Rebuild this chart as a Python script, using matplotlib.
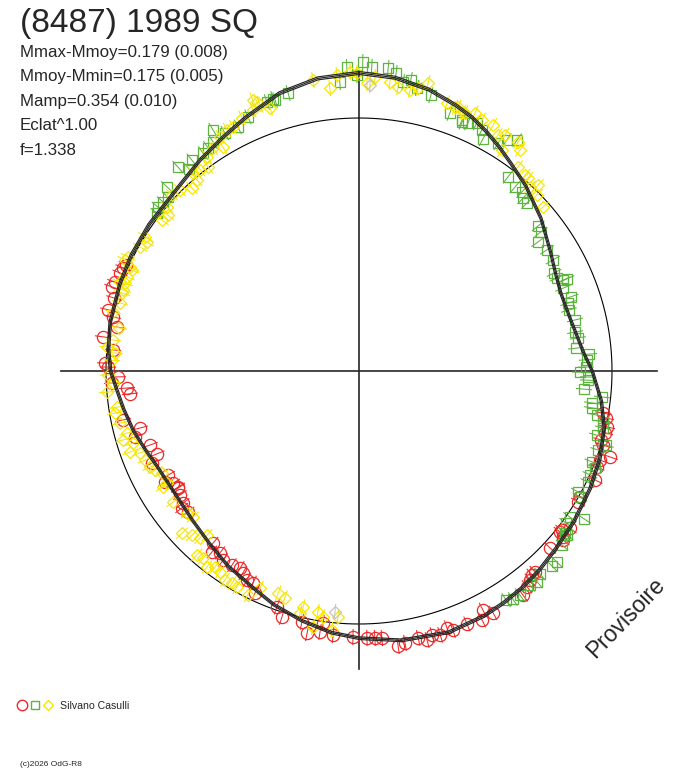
import numpy as np
import matplotlib
matplotlib.use('Agg')
import matplotlib.pyplot as plt
from matplotlib.collections import LineCollection

plt.rcParams['font.family'] = ['Liberation Sans', 'DejaVu Sans']

# ---------------- data ----------------
title = "(8487) 1989 SQ"
info_lines = ["Mmax-Mmoy=0.179 (0.008)", "Mmoy-Mmin=0.175 (0.005)",
              "Mamp=0.354 (0.010)", "Eclat^1.00", "f=1.338"]
observer = "Silvano Casulli"
copyright_txt = "(c)2026 OdG-R8"
watermark = "Provisoire"

# fitted light curve: phase angle (deg, clockwise from top) and relative flux
curve_angle = [0, 7, 14, 20, 24, 28, 32, 36, 42, 50, 58, 64, 69, 76, 85, 90, 97, 103,
               110, 117, 125, 132, 138, 143, 148, 153, 161, 171, 180, 186, 193, 200,
               205, 214, 221, 228, 238, 245, 249, 255, 261, 266, 270, 275, 281, 290,
               297, 305, 315, 323, 330, 336, 344, 352]
curve_flux = [1.178, 1.168, 1.146, 1.118, 1.098, 1.072, 1.045, 1.018, 0.985, 0.939,
              0.892, 0.866, 0.855, 0.860, 0.889, 0.922, 0.965, 0.995, 1.013, 1.025,
              1.037, 1.048, 1.062, 1.072, 1.080, 1.087, 1.092, 1.078, 1.056, 1.040,
              1.012, 0.983, 0.958, 0.928, 0.902, 0.884, 0.874, 0.883, 0.897, 0.922,
              0.943, 0.962, 0.982, 0.994, 1.002, 1.006, 1.010, 1.012, 1.018, 1.044,
              1.070, 1.098, 1.142, 1.168]

red_angle = [293.6, 292.3, 290.0, 288.8, 294.5, 286.6, 283.7, 282.4, 280.3, 277.6,
             274.9, 271.8, 270.9, 268.6, 267.2, 265.8, 264.3, 258.3, 255.4, 253.6,
             250.5, 247.7, 246.0, 241.4, 238.9, 237.3,
             240.2, 237.1, 235.3, 233.1, 232.3, 230.5, 220.3, 217.4, 219.1, 215.7,
             213.2, 211.1, 209.9, 208.2, 206.6, 205.1, 199.2, 197.4, 192.8, 191.2,
             188.1, 188.5, 185.6, 181.3, 178.3,
             176.6, 175.1, 171.9, 170.4, 167.5, 165.8, 164.5, 162.9, 161.1, 160.1,
             156.9, 153.7, 152.6, 151.0, 143.8, 142.1, 140.7, 139.7, 138.8, 132.8,
             128.7, 129.6,
             99.8, 100.8, 102.7, 104.1, 105.9, 106.9, 108.9, 110.3, 112.0, 114.8,
             119.7, 120.9, 128.1, 126.7, 129.1]
red_flux = [1.018, 1.021, 1.027, 1.031, 1.012, 1.010, 1.021, 0.996, 0.972, 1.021,
            0.976, 1.004, 0.992, 0.953, 0.977, 0.919, 0.910, 0.953, 0.894, 0.923,
            0.876, 0.863, 0.895, 0.860, 0.858, 0.850,
            0.883, 0.852, 0.861, 0.870, 0.885, 0.876, 0.892, 0.905, 0.922, 0.920,
            0.917, 0.910, 0.921, 0.937, 0.937, 0.969, 0.987, 1.019, 1.017, 1.056,
            1.006, 1.043, 1.049, 1.052, 1.056,
            1.057, 1.059, 1.098, 1.090, 1.081, 1.097, 1.083, 1.091, 1.074, 1.089,
            1.087, 1.098, 1.064, 1.093, 1.097, 1.081, 1.067, 1.057, 1.056, 1.029,
            1.018, 1.047,
            0.979, 0.994, 1.005, 1.003, 0.995, 1.008, 1.049, 1.015, 1.014, 1.028,
            1.006, 1.009, 1.019, 1.040, 1.040]

green_angle = [357.7, 0.7, 2.4, 5.5, 7.1, 359.6, 356.2, 8.7, 10.1, 11.6, 14.6, 345.7,
               342.8, 341.1, 19.4, 22.3,
               342.5, 336.4, 333.6, 328.8, 330.6, 327.5, 325.9, 324.4, 321.6, 318.4,
               319.9, 313.8, 312.3, 310.8, 309.2, 308.0,
               22.5, 23.7, 25.4, 27.0, 28.1, 31.4, 32.6, 34.4, 37.5, 40.3, 42.3, 43.5,
               45.0, 51.0, 52.6, 54.2, 57.2, 60.2, 63.3, 64.8, 66.1, 67.9, 70.7,
               66.0, 72.0, 73.8, 76.7, 79.8, 81.4, 84.0, 85.8, 87.2, 89.0, 90.3, 91.5,
               92.3, 94.6, 96.1, 97.8, 99.0, 100.5, 101.8, 103.1, 105.1, 106.7, 108.3,
               111.3, 112.3, 114.2, 115.9, 118.9, 119.7, 123.3, 124.7, 126.3, 128.3,
               128.2, 130.6, 134.0, 135.3, 138.3, 139.8, 141.4, 144.3, 146.0, 147.3]
green_flux = [1.202, 1.221, 1.203, 1.203, 1.187, 1.170, 1.145, 1.155, 1.168, 1.142,
              1.127, 1.134, 1.121, 1.124, 1.081, 1.072,
              1.128, 1.096, 1.077, 1.114, 1.080, 1.073, 1.065, 1.060, 1.064, 1.078,
              1.044, 1.051, 1.021, 1.023, 1.025, 1.014,
              1.065, 1.071, 1.086, 1.069, 1.040, 1.055, 1.084, 1.106, 0.967, 0.953,
              0.957, 0.942, 0.939, 0.911, 0.905, 0.872, 0.884, 0.883, 0.863, 0.865,
              0.899, 0.870, 0.887,
              0.883, 0.869, 0.864, 0.877, 0.868, 0.875, 0.863, 0.912, 0.902, 0.897,
              0.874, 0.905, 0.906, 0.892, 0.966, 0.930, 0.932, 0.957, 0.985, 0.990,
              0.974, 1.019, 0.995, 0.989, 1.009, 1.001, 1.006, 0.989, 1.006, 1.064,
              1.014, 1.015, 1.047,
              1.036, 1.057, 1.087, 1.085, 1.075, 1.091, 1.083, 1.090, 1.087, 1.076]

yellow_angle = [338.6, 339.6, 341.3, 351.0, 354.1, 355.7, 358.3, 359.6, 1.6, 3.1, 6.1,
                7.8, 10.3, 11.8, 13.5, 18.2, 20.0, 21.9,
                20.6, 22.3, 24.2, 26.1, 28.6, 30.5, 31.7, 32.9, 34.8, 36.1, 37.9, 40.3,
                41.2, 42.9, 43.9, 45.3, 48.3,
                339.2, 337.9, 335.2, 332.7, 331.3, 329.3, 328.7, 326.8, 324.6, 323.5,
                321.7, 320.0, 319.7, 317.6, 315.3, 313.3, 310.5, 309.2, 307.5, 302.1,
                301.3, 299.5, 296.3, 295.4, 294.4, 292.1, 290.4, 289.0,
                294.0, 290.6, 288.2, 285.9, 283.5, 280.2, 277.2, 275.4, 274.2, 272.5,
                269.1, 267.2, 265.2, 261.5, 260.2, 257.7, 255.0, 253.7, 252.3, 250.5,
                249.5, 247.4, 245.3, 244.1, 242.6, 239.7,
                239.4, 234.8, 230.5, 228.7, 227.5, 225.5, 223.6, 222.8, 221.4, 219.8,
                217.8, 216.3, 214.7, 212.7, 210.9, 209.5, 206.4, 204.5, 200.0, 198.1,
                193.3, 193.7, 189.7, 188.3, 184.9, 186.0, 190.2]
yellow_flux = [1.150, 1.122, 1.098, 1.164, 1.124, 1.173, 1.182, 1.178, 1.139, 1.164,
               1.149, 1.133, 1.129, 1.143, 1.171, 1.115, 1.110, 1.103,
               1.114, 1.102, 1.118, 1.105, 1.107, 1.083, 1.097, 1.040, 1.102, 1.081,
               1.022, 1.015, 1.014, 0.993, 1.020, 0.989, 0.974,
               1.137, 1.113, 1.102, 1.085, 1.086, 1.076, 1.036, 1.053, 1.038, 1.003,
               1.013, 1.021, 0.990, 0.979, 1.006, 1.015, 0.998, 0.975, 0.981, 0.998,
               0.981, 0.995, 1.018, 1.024, 0.994, 0.989, 1.008, 0.986,
               0.982, 0.988, 0.986, 0.982, 1.000, 0.964, 0.980, 1.000, 0.967, 0.977,
               0.992, 0.973, 1.000, 0.967, 0.979, 0.967, 0.949, 0.972, 0.938, 0.960,
               0.924, 0.916, 0.909, 0.896, 0.877, 0.879,
               0.900, 0.899, 0.881, 0.874, 0.948, 0.925, 0.911, 0.884, 0.969, 0.963,
               0.980, 0.961, 0.966, 0.981, 0.977, 0.981, 0.988, 0.943, 0.934, 0.944,
               0.959, 0.985, 0.966, 0.983, 0.976, 1.029, 1.028]

gray_angle = [2.2, 185.7]
gray_flux = [1.131, 0.957]

flux_err = 0.032

# ---------------- style ----------------
W, H = 688, 768
CX, CY = 359, 371
SCALE = 253.0
RED, GREEN, YELLOW, GRAY = '#ec2a2a', '#5cb43e', '#f6e600', '#c4c4c4'
INK = '#262626'

fig = plt.figure(figsize=(W / 100, H / 100), dpi=100)
ax = fig.add_axes([0, 0, 1, 1])
ax.set_xlim(-CX / SCALE, (W - CX) / SCALE)
ax.set_ylim(-(H - CY) / SCALE, CY / SCALE)
ax.axis('off')


def to_xy(ang, r):
    t = np.radians(np.asarray(ang, dtype=float))
    r = np.asarray(r, dtype=float)
    return r * np.sin(t), r * np.cos(t)


# reference circle (mean flux = 1)
tt = np.linspace(0, 2 * np.pi, 721)
ax.plot(np.sin(tt), np.cos(tt), color='black', lw=0.8, zorder=2)

# axes cross
rmax = max(curve_flux)
ax.plot([-rmax, rmax], [0, 0], color=INK, lw=1.2, zorder=2)
ax.plot([0, 0], [-rmax, rmax], color=INK, lw=1.2, zorder=2)


def draw_series(ang, flux, color, marker, ms, z):
    ang = np.asarray(ang, float)
    flux = np.asarray(flux, float)
    x0, y0 = to_xy(ang, flux - flux_err)
    x1, y1 = to_xy(ang, flux + flux_err)
    segs = [[(a, b), (c, d)] for a, b, c, d in zip(x0, y0, x1, y1)]
    ax.add_collection(LineCollection(segs, colors=color, linewidths=0.75, zorder=z))
    x, y = to_xy(ang, flux)
    ax.plot(x, y, ls='none', marker=marker, ms=ms, mfc='none', mec=color,
            mew=0.9, zorder=z)


draw_series(red_angle, red_flux, RED, 'o', 8.8, 3)
draw_series(green_angle, green_flux, GREEN, 's', 7.3, 4)
draw_series(yellow_angle, yellow_flux, YELLOW, 'D', 6.6, 5)
draw_series(gray_angle, gray_flux, GRAY, 'D', 6.6, 5)

# fitted curve (drawn as a narrow band of thin lines)
ca = list(curve_angle) + [curve_angle[0]]
cf = list(curve_flux) + [curve_flux[0]]
cx, cy = to_xy(ca, cf)
for s in (0.995, 1.0, 1.005):
    ax.plot(cx * s, cy * s, color='#262626', lw=0.85, zorder=6)


# ---------------- texts ----------------
def fx(px):
    return px / W


def fy(py):
    return 1 - py / H


fig.text(fx(20), fy(32), title, fontsize=24, color=INK, va='baseline', ha='left')
for i, line in enumerate(info_lines):
    fig.text(fx(20), fy(57 + 24.5 * i), line, fontsize=12.2, color=INK,
             va='baseline', ha='left')

# legend
ax.plot([fx(22)], [fy(705)], marker='o', ms=7.5, mfc='none', mec=RED, mew=1.0,
        transform=fig.transFigure, clip_on=False)
ax.plot([fx(35)], [fy(705)], marker='s', ms=5.8, mfc='none', mec=GREEN, mew=1.0,
        transform=fig.transFigure, clip_on=False)
ax.plot([fx(48)], [fy(705)], marker='D', ms=5.2, mfc='none', mec=YELLOW, mew=1.0,
        transform=fig.transFigure, clip_on=False)
fig.text(fx(60), fy(709), observer, fontsize=7.6, color=INK, va='baseline', ha='left')
fig.text(fx(20), fy(766), copyright_txt, fontsize=6, color=INK, va='baseline', ha='left')

fig.text(fx(626), fy(618), watermark, fontsize=16.5, color=INK, rotation=46,
         ha='center', va='center', rotation_mode='anchor')

fig.savefig('out.png', dpi=100)
